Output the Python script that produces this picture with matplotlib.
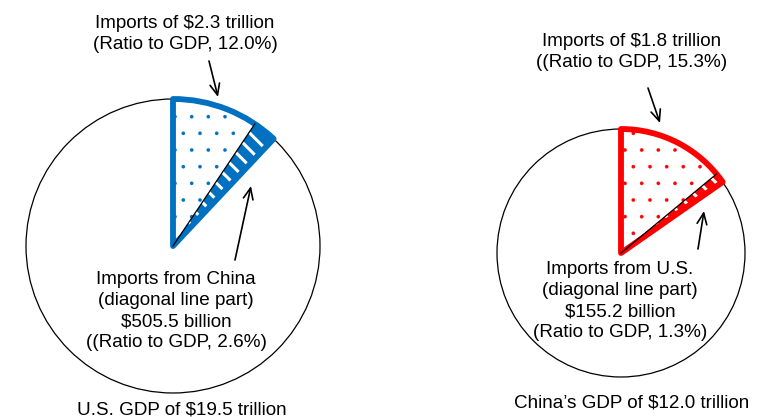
import matplotlib
matplotlib.use('Agg')
import matplotlib.pyplot as plt  # noqa E402
from matplotlib.patches import Circle, Wedge  # noqa E402
import numpy as np  # noqa E402

# share of GDP (percent) for total imports and imports from the partner
countries = ["U.S.", "China"]
import_ratio = [12.0, 15.3]
partner_ratio = [2.6, 1.3]
colors = ["#0070C0", "#FF0000"]

top_labels = ["Imports of $2.3 trillion\n(Ratio to GDP, 12.0%)",
              "Imports of $1.8 trillion\n((Ratio to GDP, 15.3%)"]
inner_labels = ["Imports from China\n(diagonal line part)\n$505.5 billion\n((Ratio to GDP, 2.6%)",
                "Imports from U.S.\n(diagonal line part)\n$155.2 billion\n(Ratio to GDP, 1.3%)"]
gdp_labels = ["U.S. GDP of $19.5 trillion", "China\u2019s GDP of $12.0 trillion"]

# layout in pixel units (y grows downwards)
centers = [(173, 246), (621, 253)]
radii = [147, 124]
top_text_xy = [(185, 34), (632, 52)]
inner_text_xy = [(176, 311), (620, 301)]
gdp_text_xy = [(182, 410), (632, 403)]
top_arrows = [((209, 61), (218, 97)), ((648, 88), (660, 123))]
inner_arrows = [((235, 260), (251, 186)), ((698, 249), (704, 211))]

FS = 13.6
LS = 1.33

plt.rcParams['font.family'] = ['Liberation Sans', 'DejaVu Sans']

fig = plt.figure(figsize=(7.61, 4.17), dpi=100)
ax = fig.add_axes([0, 0, 1, 1])
ax.set_xlim(0, 761)
ax.set_ylim(417, 0)
ax.set_aspect('equal')
ax.axis('off')

for i in range(2):
    cx, cy = centers[i]
    r = radii[i]
    col = colors[i]
    # clockwise from 12 o'clock in a y-down frame
    start = -90
    end = start + import_ratio[i] * 3.6
    split = end - partner_ratio[i] * 3.6

    ax.add_patch(Circle((cx, cy), r, facecolor='white', edgecolor='black', lw=0.9))

    with plt.rc_context({'hatch.linewidth': 0.2}):
        dots = Wedge((cx, cy), r, start, split, facecolor='white',
                     edgecolor=col, hatch='.', lw=0)
    ax.add_patch(dots)
    ax.add_patch(Wedge((cx, cy), r, split, end, facecolor=col, lw=0))
    with plt.rc_context({'hatch.linewidth': 2.2}):
        stripes = Wedge((cx, cy), r, split, end, facecolor='none',
                        edgecolor='white', hatch='\\\\', lw=0)
    ax.add_patch(stripes)

    a = np.deg2rad(split)
    ax.plot([cx, cx + r * np.cos(a)], [cy, cy + r * np.sin(a)], color='black', lw=0.9)

    ax.add_patch(Wedge((cx, cy), r, start, end, facecolor='none',
                       edgecolor=col, lw=4.2, joinstyle='round'))

    ax.text(*top_text_xy[i], top_labels[i], ha='center', va='center',
            fontsize=FS, linespacing=LS)
    ax.text(*inner_text_xy[i], inner_labels[i], ha='center', va='center',
            fontsize=FS, linespacing=LS)
    ax.text(*gdp_text_xy[i], gdp_labels[i], ha='center', va='center', fontsize=FS)

    for tail, head in (top_arrows[i], inner_arrows[i]):
        ax.annotate('', xy=head, xytext=tail,
                    arrowprops=dict(arrowstyle='->,head_length=0.8,head_width=0.35',
                                    color='black', lw=1.2, shrinkA=0, shrinkB=0))

fig.savefig('out.png', dpi=100)
plt.close(fig)
